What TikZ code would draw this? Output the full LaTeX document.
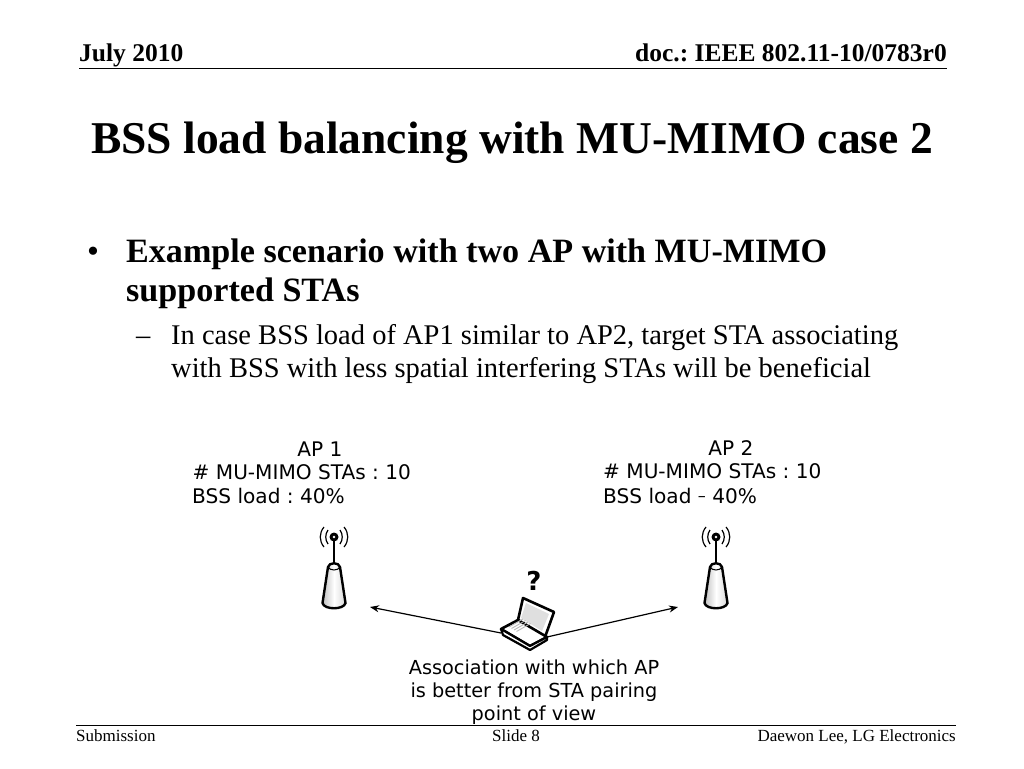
\documentclass[tikz,border=0pt]{standalone}
\usepackage{fontspec}
\setmainfont{Liberation Serif}
\newfontfamily\labelfont{DejaVu Sans}
\usetikzlibrary{arrows.meta}
\frenchspacing

\begin{document}
\begin{tikzpicture}[
  x=1pt, y=-1pt,
  head/.style={font=\fontsize{25.5}{28}\selectfont\bfseries, inner sep=0pt},
  foot/.style={font=\fontsize{17}{19}\selectfont, inner sep=0pt},
  headline/.style={font=\fontsize{45.5}{48}\selectfont\bfseries, inner sep=0pt, anchor=base},
  bodybig/.style={font=\fontsize{34.1}{39}\selectfont, inner sep=0pt, anchor=base west, align=left},
  bodysmall/.style={font=\fontsize{28.5}{33.5}\selectfont, inner sep=0pt, anchor=base west, align=left},
  info/.style={font=\labelfont\fontsize{20.1}{24}\selectfont, inner sep=0pt, anchor=base west, align=left},
  arr/.style={{Stealth[length=9pt,width=7pt]}-, line width=1.2pt},
  ap/.pic={
    % mast with the bulb on top
    \draw[line width=2pt] (0,2) -- (0,26);
    \fill (0,0) circle (4.5pt);
    \fill[white] (0,0) circle (1.3pt);
    % radio waves
    \draw[line width=1.2pt] (-6,-7) .. controls (-9,-3) and (-9,3) .. (-6,7);
    \draw[line width=1.2pt] (6,-7) .. controls (9,-3) and (9,3) .. (6,7);
    \draw[line width=1.2pt] (-10,-10) .. controls (-15,-4) and (-15,4) .. (-10,10);
    \draw[line width=1.2pt] (10,-10) .. controls (15,-4) and (15,4) .. (10,10);
    % body of the antenna
    \draw[line width=2.4pt, left color=gray!50, right color=gray!30, middle color=white]
      (-6,30) -- (-11.5,66) .. controls (-10,73) and (10,73) .. (11.5,66) -- (6,30)
      .. controls (5,25) and (-5,25) .. (-6,30) -- cycle;
    \draw[line width=1pt] (-6,30) .. controls (-4,34) and (4,34) .. (6,30);
  },
]
  \useasboundingbox (0,0) rectangle (1024,768);
  \fill[white] (0,0) rectangle (1024,768);

  % header and footer
  \node[head, anchor=base west] (date) at (79,62) {July 2010};
  \node[head, anchor=base east] (doc) at (947,62) {doc.: IEEE 802.11-10/0783r0};
  \draw[line width=1pt] (79,68) -- (947,68);
  \draw[line width=1pt] (76,725) -- (956,725);
  \node[foot, anchor=base west] (sub) at (76,741) {Submission};
  \node[foot, anchor=base] (slide) at (516,741) {Slide 8};
  \node[foot, anchor=base east] (auth) at (956,741) {Daewon Lee, LG Electronics};

  % title and bullets
  \node[headline] (title) at (512,153) {BSS load balancing with MU-MIMO case 2};
  \node[bodybig] (dot) at (87,262) {•};
  \node[bodybig, font=\fontsize{34.1}{39}\selectfont\bfseries] (main) at (126,301) {Example scenario with two AP with MU-MIMO\\supported STAs};
  \node[bodysmall] (dash) at (136,344) {–};
  \node[bodysmall] (sub1) at (171,377.5) {In case BSS load of AP1 similar to AP2, target STA associating\\with BSS with less spatial interfering STAs will be beneficial};

  % AP labels
  \node[info, anchor=base] (t1) at (320,456) {AP 1};
  \node[info] (m1) at (192.5,479) {\# MU-MIMO STAs : 10};
  \node[info] (l1) at (192,503) {BSS load : 40\%};
  \node[info, anchor=base] (t2) at (731,455) {AP 2};
  \node[info] (m2) at (603,478) {\# MU-MIMO STAs : 10};
  \node[info] (l2) at (603,503) {BSS load {\fontsize{16}{16}\selectfont\raisebox{1.5pt}{–}} 40\%};

  % the two APs
  \pic at (334,537) {ap};
  \pic at (716,537) {ap};

  % laptop
  \node[inner sep=0pt, font=\labelfont\bfseries\fontsize{26}{28}\selectfont] (ask) at (534,581) {?};
  \coordinate (left) at (370,607);
  \coordinate (right) at (678,607);
  \coordinate (staleft) at (501,633);
  \coordinate (staright) at (547,637);
  \draw[arr] (left) -- (staleft);
  \draw[arr] (right) -- (staright);
  \draw[line width=2.6pt, line join=round, fill=white] (523,598) -- (554,612) -- (545,637) -- (518,620) -- cycle;
  \fill[gray!25] (526,603) -- (549,614) -- (542,631) -- (521,618) -- cycle;
  \draw[line width=2.6pt, line join=round, fill=white] (518,620) -- (501,629) -- (530,646) -- (547,637) -- cycle;
  \foreach \i in {0,1,2,3}
    \draw[gray!55, line width=0.9pt] ({509+2.5*\i},{627+1.5*\i}) -- ({523+2.5*\i},{619+1.5*\i});
  \draw[line width=2.2pt, line join=round, fill=white] (501,629) -- (503,635) -- (530,650) -- (547,640) -- (547,637) -- (530,646) -- cycle;

  % caption
  \node[info, anchor=base, align=center, font=\labelfont\fontsize{19.3}{23}\selectfont] (cap) at (534,720.5) {Association with which AP\\is better from STA pairing\\point of view};
\end{tikzpicture}
\end{document}
